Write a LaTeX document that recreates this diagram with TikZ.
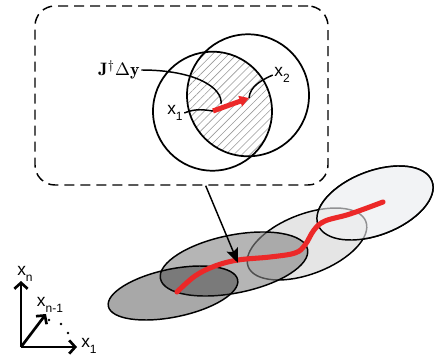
\documentclass[tikz,border=0pt]{standalone}
\usepackage{fontspec}
\newfontfamily\labelfont{Liberation Sans}
\usetikzlibrary{arrows.meta,patterns.meta}
\newcommand{\lowidx}[1]{\raisebox{-0.6ex}{\fontsize{9}{9}\selectfont #1}}

\begin{document}
\begin{tikzpicture}[x=0.75pt,y=-0.75pt,
  varlabel/.style={font=\labelfont\fontsize{13}{13}\selectfont, inner sep=1pt},
  ring/.style={draw=black, line width=1.3pt},
  region/.style={draw=black, line width=1.1pt},
  leader/.style={draw=black, line width=1.1pt},
  trail/.style={draw={rgb,255:red,236;green,40;blue,40}, line width=3.8pt, line cap=round},
  axisline/.style={line width=2pt, -{Straight Barb[length=4.5pt,width=10pt]}}]
\useasboundingbox (0,0) rectangle (435,356);

% zoomed view
\node[draw=black, line width=1.1pt, dash pattern=on 7.5pt off 4.5pt, rounded corners=15pt,
  minimum width=219.75pt, minimum height=134.25pt] (zoombox) at (181.5,95.5) {};

\begin{scope}
  \clip (212.5,111.2) circle [radius=59.5];
  \fill[pattern={Lines[angle=45,distance=4.3pt,line width=0.45pt]}, pattern color=gray!80]
    (248,95.3) circle [radius=61];
\end{scope}
\draw[ring] (212.5,111.2) circle [radius=59.5];
\draw[ring] (248,95.3) circle [radius=61];

\coordinate (p1) at (213,111);
\coordinate (p2) at (249,98);
\node[varlabel] (xa) at (175,113) {x\lowidx{1}};
\node[varlabel] (xb) at (282,75) {x\lowidx{2}};
\node[inner sep=1pt] (step) at (119,70) {\scalebox{1.35}{$\mathbf{J}^{\dagger}\Delta\mathbf{y}$}};

\draw[leader] (step.east) .. controls (196,70) and (223,88) .. (221,104);
\draw[leader] (xa.east) .. controls (196,108) and (205,110) .. (p1);
\draw[leader] (xb.west) .. controls (262,80) and (250,86) .. (p2);
\draw[trail, line cap=butt, -{Triangle[length=7pt,width=8pt]}] (p1) -- (p2);

% regions along the path
\draw[region, fill={rgb,255:red,242;green,243;blue,245}, rotate around={21:(375,203)}]
  (375,203) ellipse [x radius=61, y radius=32];
\draw[region, fill={rgb,255:red,229;green,229;blue,229}, rotate around={21:(307,244)}]
  (307,244) ellipse [x radius=63, y radius=30];
\draw[region, draw opacity=0, fill={rgb,255:red,242;green,243;blue,245}, fill opacity=0.6, rotate around={21:(375,203)}]
  (375,203) ellipse [x radius=61, y radius=32];
\draw[region, rotate around={21:(375,203)}] (375,203) ellipse [x radius=61, y radius=32];
\draw[region, fill={rgb,255:red,132;green,132;blue,132}, fill opacity=0.6, rotate around={11.3:(234,264)}]
  (234,264) ellipse [x radius=75, y radius=29];
\draw[region, fill={rgb,255:red,26;green,26;blue,26}, fill opacity=0.38, rotate around={11.6:(173,293)}]
  (173,293) ellipse [x radius=66, y radius=24];

\draw[trail] plot[smooth, tension=0.6] coordinates {(177,292) (195,276) (215,266) (238,260)
  (270,257) (295,253) (305,245) (314,230) (325,221) (350,214) (383,202)};

\coordinate (hit) at (238,263);
\draw[line width=1.1pt, -{Stealth[length=11pt,width=9pt,inset=2pt]}] (zoombox.-75) -- (hit);

% axes
\coordinate (o) at (21,347);
\coordinate (e1) at (77,347);
\coordinate (en) at (21,281);
\coordinate (em) at (46,314);
\draw[axisline] (o) -- (e1);
\draw[axisline] (o) -- (en);
\draw[axisline] (o) -- (em);
\fill (49,320) circle [radius=1.3];
\fill (61,324) circle [radius=1.3];
\fill (68,333) circle [radius=1.3];
\node[varlabel] (ln) at (25,274) {x\lowidx{n}};
\node[varlabel] (lm) at (50,305) {x\lowidx{n-1}};
\node[varlabel] (l1) at (89,346) {x\lowidx{1}};
\end{tikzpicture}
\end{document}
